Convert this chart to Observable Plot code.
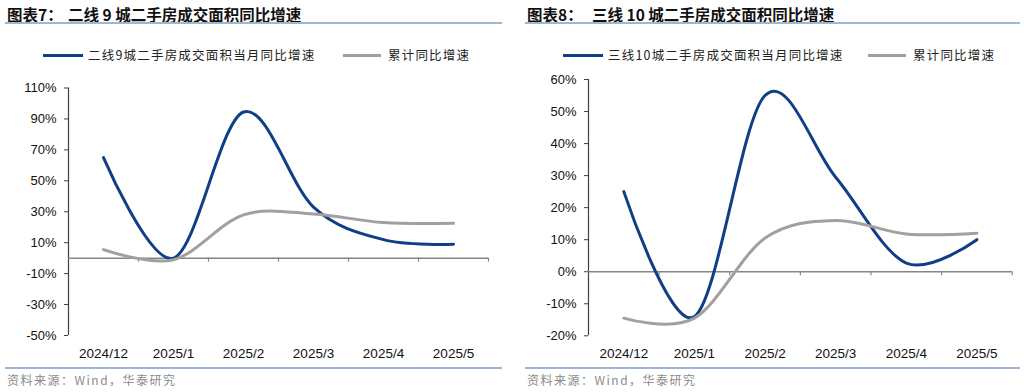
<!DOCTYPE html>
<html><head><meta charset="utf-8">
<script src="https://cdn.jsdelivr.net/npm/d3@7"></script>
<script src="https://cdn.jsdelivr.net/npm/@observablehq/plot@0.6"></script>
<style>
body{margin:0;background:#fff;}
#wrap{position:relative;width:1031px;height:392px;overflow:hidden;font-family:"Noto Sans CJK SC","Liberation Sans",sans-serif;}
.abs{position:absolute;white-space:nowrap;}
.title{font-size:15.5px;font-weight:bold;color:#111;line-height:18px;}
.rule{position:absolute;height:2px;background:#9fb5d4;}
.leg{font-size:12.5px;letter-spacing:1.2px;color:#222;line-height:16px;}
.legline{position:absolute;height:3px;}
.foot{font-size:12px;letter-spacing:1.5px;color:#8a8a8a;line-height:14px;}
</style></head>
<body><div id="wrap"></div>
<script>
const months = ["2024/12","2025/1","2025/2","2025/3","2025/4","2025/5"];
// 图表7 二线9城
const leftMonthly = [65, 0, 94.5, 33, 12, 9];
const leftCum = [5.5, -1, 28, 28.5, 23, 22.5];
const leftTicks = [-50,-30,-10,10,30,50,70,90,110];
const leftDomain = [-50,110];
// 图表8 三线10城
const rightMonthly = [25, -14, 55, 29.5, 2.7, 10];
const rightCum = [-14.5, -14.5, 10.5, 16, 11.8, 12];
const rightTicks = [-20,-10,0,10,20,30,40,50,60];
const rightDomain = [-20,60];

const BLUE = "#103f87", GRAY = "#a0a0a0";
const wrap = document.getElementById("wrap");

function add(html, css, cls){
  const d = document.createElement("div");
  d.className = "abs " + (cls||"");
  d.innerHTML = html;
  Object.assign(d.style, css);
  wrap.appendChild(d);
  return d;
}

function panel(ox, cfg){
  add("图表"+cfg.no+"：", {left:(ox+7)+"px", top:"5px"}, "title");
  add(cfg.title, {left:(ox+cfg.titleX)+"px", top:"5px"}, "title");
  const r1 = document.createElement("div"); r1.className="rule";
  Object.assign(r1.style,{left:(ox+5)+"px", top:"22px", width:(cfg.ruleW)+"px"}); wrap.appendChild(r1);
  // legend
  const l1 = document.createElement("div"); l1.className="legline";
  Object.assign(l1.style,{left:(ox+43)+"px", top:"54px", width:"40px", background:BLUE}); wrap.appendChild(l1);
  add(cfg.leg1, {left:(ox+88)+"px", top:"47px"}, "leg");
  const l2 = document.createElement("div"); l2.className="legline";
  Object.assign(l2.style,{left:(ox+cfg.leg2X)+"px", top:"54px", width:"38px", background:GRAY}); wrap.appendChild(l2);
  add("累计同比增速", {left:(ox+cfg.leg2X+45)+"px", top:"47px"}, "leg");
  // bottom rule + footnote
  const r2 = document.createElement("div"); r2.className="rule";
  Object.assign(r2.style,{left:(ox+5)+"px", top:"367px", width:(cfg.ruleW)+"px"}); wrap.appendChild(r2);
  add("资料来源：Wind，华泰研究", {left:(ox+7)+"px", top:"373px"}, "foot");

  const idx = (d,i)=>i+0.5;
  const bounds = [1,2,3,4,5,6];
  const chart = Plot.plot({
    width: cfg.width, height: 365,
    marginLeft: 68, marginRight: cfg.width - cfg.frameR,
    marginTop: cfg.top, marginBottom: 365 - cfg.bottom,
    x: {domain:[0,6], axis:null},
    y: {domain: cfg.domain, axis:null},
    style: {fontFamily:"'Liberation Sans', Arial, sans-serif", fontSize:"13px", background:"transparent", overflow:"visible"},
    marks: [
      Plot.axisY({ticks: cfg.ticks, tickFormat: d=>d+"%", tickSize:4, tickPadding:8, fontSize:13, stroke:"#404040", fill:"#111"}),
      Plot.ruleX([0], {stroke:"#404040", strokeWidth:1.2}),
      Plot.ruleY([0], {stroke:"#858585", strokeWidth:1.5}),
      Plot.ruleX(bounds, {x:d=>d, y1:0, y2:0, insetBottom:-4, stroke:"#858585", strokeWidth:1.2}),
      Plot.text(months, {x:idx, text:d=>d, frameAnchor:"bottom", dy:18, lineAnchor:"middle", fontSize:13.5, fill:"#111"}),
      Plot.line(cfg.monthly, {x:idx, y:d=>d, curve:"cardinal", stroke:BLUE, strokeWidth:3}),
      Plot.line(cfg.cum, {x:idx, y:d=>d, curve:"cardinal", stroke:GRAY, strokeWidth:3})
    ]
  });
  chart.style.position = "absolute";
  chart.style.left = ox + "px";
  chart.style.top = "0px";
  wrap.appendChild(chart);
}

panel(0, {no:"7", title:"二线 9 城二手房成交面积同比增速", titleX:68, ruleW:497,
  leg1:"二线9城二手房成交面积当月同比增速", leg2X:343,
  width:515, frameR:488, top:87.5, bottom:335,
  domain:leftDomain, ticks:leftTicks, monthly:leftMonthly, cum:leftCum});
panel(520, {no:"8", title:"三线 10 城二手房成交面积同比增速", titleX:72, ruleW:495,
  leg1:"三线10城二手房成交面积当月同比增速", leg2X:348,
  width:511, frameR:491.7, top:79, bottom:335.3,
  domain:rightDomain, ticks:rightTicks, monthly:rightMonthly, cum:rightCum});
</script></body></html>
